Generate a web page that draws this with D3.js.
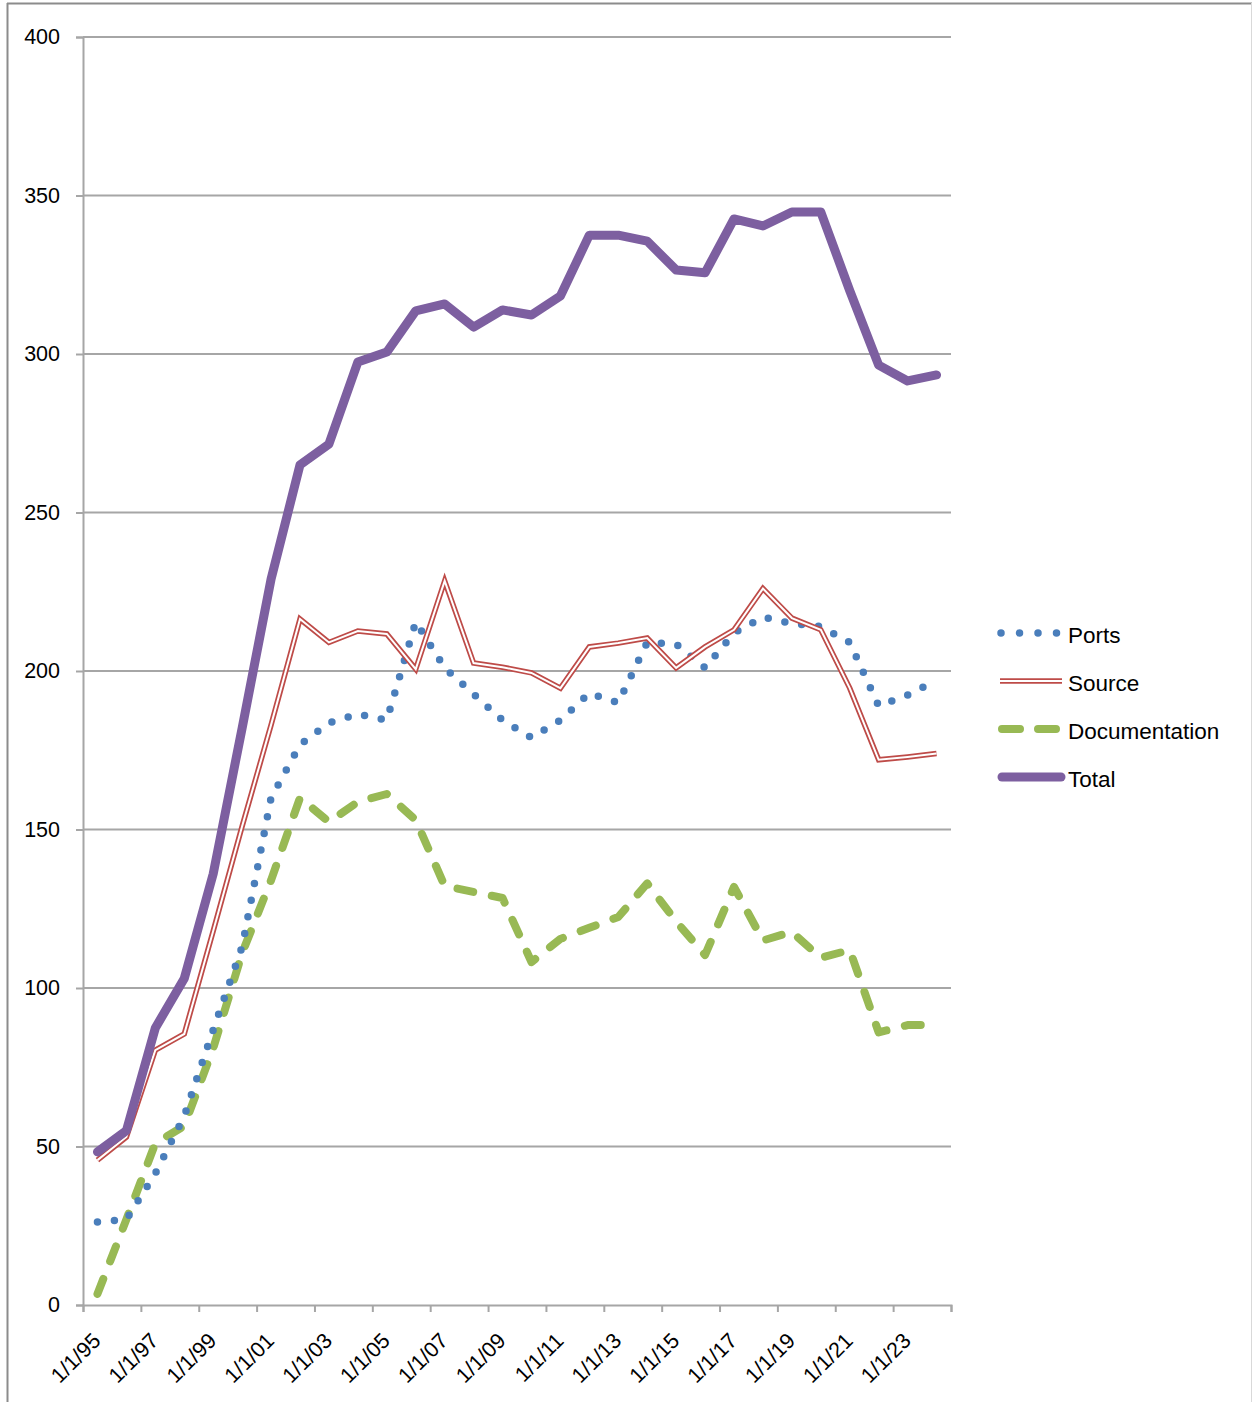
<!DOCTYPE html>
<html>
<head>
<meta charset="utf-8">
<script src="https://cdn.jsdelivr.net/npm/d3@7"></script>
<style>
  html, body { margin: 0; padding: 0; background: #fff; }
  svg { display: block; }
  text { font-family: "Liberation Sans", Arial, sans-serif; fill: #000; }
</style>
</head>
<body>
<svg id="chart" width="1252" height="1402"></svg>
<script>
// ---- data ----
const categories = ["1/1/95","1/1/96","1/1/97","1/1/98","1/1/99","1/1/00","1/1/01","1/1/02","1/1/03","1/1/04",
  "1/1/05","1/1/06","1/1/07","1/1/08","1/1/09","1/1/10","1/1/11","1/1/12","1/1/13","1/1/14",
  "1/1/15","1/1/16","1/1/17","1/1/18","1/1/19","1/1/20","1/1/21","1/1/22","1/1/23","1/1/24"];
const ports = [26.2, 27, 41.5, 59.6, 86.8, 113, 160, 176.7, 183.6, 186.4, 184.5, 215.5, 201, 192.7, 184.5,
  179, 184.5, 193, 190, 209, 208.5, 201, 212, 217, 215, 214, 209, 189, 192.4, 197];
const source = [45.7, 53, 80.4, 85.5, 118, 151, 183, 216.4, 209, 212.6, 211.7, 200.6, 228.4, 202.5, 201.2,
  199.4, 194.6, 207.6, 208.8, 210.4, 201, 207.6, 213, 226, 216.7, 213, 194.6, 172, 172.9, 174];
const documentation = [3.5, 27, 51, 56.5, 81, 111, 134, 160, 152.4, 158.7, 161.2, 153, 132.2, 130.3, 128.4,
  108.2, 115.5, 119, 122.4, 133, 121, 110.4, 131.9, 115, 117.7, 109.5, 112, 86, 88.3, 88.3];
const total = [48.3, 55, 87.4, 103, 136, 182, 229, 265, 271.6, 297.5, 300.6, 313.6, 315.8, 308.5, 313.9,
  312.3, 318.3, 337.5, 337.5, 335.6, 326.5, 325.6, 342.6, 340.4, 344.8, 344.8, 320, 296.5, 291.5, 293.4];
const yTicks = [0, 50, 100, 150, 200, 250, 300, 350, 400];
const seriesNames = ["Ports", "Source", "Documentation", "Total"];

(function draw() {
  const svg = d3.select("#chart");
  const pLeft = 83, pRight = 951, pTop = 37, pBottom = 1305;
  const gridColor = "#a6a6a6";

  // outer frame
  svg.append("line").attr("x1", 7).attr("x2", 1252).attr("y1", 3.5).attr("y2", 3.5)
    .attr("stroke", "#8c8c8c").attr("stroke-width", 2);
  svg.append("line").attr("x1", 7.5).attr("x2", 7.5).attr("y1", 3).attr("y2", 1402)
    .attr("stroke", "#8c8c8c").attr("stroke-width", 2);
  svg.append("line").attr("x1", 1251.5).attr("x2", 1251.5).attr("y1", 3).attr("y2", 1402)
    .attr("stroke", "#d9d9d9").attr("stroke-width", 1);

  const n = categories.length;
  const xi = d3.scaleLinear().domain([0, n]).range([pLeft, pRight]);
  const xc = i => xi(i + 0.5);
  const y = d3.scaleLinear().domain([0, 400]).range([pBottom, pTop]);

  // gridlines
  svg.append("g").selectAll("line").data(yTicks.filter(d => d > 0)).join("line")
    .attr("x1", pLeft).attr("x2", pRight)
    .attr("y1", d => y(d)).attr("y2", d => y(d))
    .attr("stroke", gridColor).attr("stroke-width", 2);

  // y axis
  const yAxis = svg.append("g").attr("transform", `translate(${pLeft},0)`)
    .call(d3.axisLeft(y).tickValues(yTicks).tickSize(7).tickPadding(16));
  yAxis.select(".domain").attr("stroke", gridColor).attr("stroke-width", 2);
  yAxis.selectAll(".tick line").attr("stroke", gridColor).attr("stroke-width", 2);
  yAxis.selectAll(".tick text").attr("font-size", 21.5)
    .attr("font-family", "Liberation Sans, Arial, sans-serif").attr("fill", "#000");

  // x axis ticks
  const xTickIdx = d3.range(0, n + 1, 2);
  const xAxis = svg.append("g").attr("transform", `translate(0,${pBottom})`)
    .call(d3.axisBottom(xi).tickValues(xTickIdx).tickSize(7).tickFormat(""));
  xAxis.select(".domain").attr("stroke", gridColor).attr("stroke-width", 2);
  xAxis.selectAll(".tick line").attr("stroke", gridColor).attr("stroke-width", 2);

  // x labels (every other category)
  svg.append("g").selectAll("text")
    .data(categories.map((c, i) => ({ c, i })).filter(d => d.i % 2 === 0))
    .join("text")
    .attr("transform", d => `translate(${xc(d.i) + 4.5},${pBottom + 37}) rotate(-45)`)
    .attr("text-anchor", "end")
    .attr("font-size", 21.5)
    .text(d => d.c);

  // lines
  const lineGen = d3.line().x((d, i) => xc(i)).y(d => y(d));
  const g = svg.append("g");

  g.append("path").datum(documentation).attr("d", lineGen)
    .attr("fill", "none").attr("stroke", "#98b954").attr("stroke-width", 8)
    .attr("stroke-linecap", "round").attr("stroke-linejoin", "round")
    .attr("stroke-dasharray", "16 19");

  g.append("path").datum(ports).attr("d", lineGen)
    .attr("fill", "none").attr("stroke", "#4a7ebb").attr("stroke-width", 7.5)
    .attr("stroke-linecap", "round").attr("stroke-linejoin", "round")
    .attr("stroke-dasharray", "0 17");

  g.append("path").datum(source).attr("d", lineGen)
    .attr("fill", "none").attr("stroke", "#be4b48").attr("stroke-width", 5.5)
    .attr("stroke-linejoin", "miter");
  g.append("path").datum(source).attr("d", lineGen)
    .attr("fill", "none").attr("stroke", "#ffffff").attr("stroke-width", 2)
    .attr("stroke-linejoin", "miter");

  g.append("path").datum(total).attr("d", lineGen)
    .attr("fill", "none").attr("stroke", "#7d5fa0").attr("stroke-width", 9)
    .attr("stroke-linecap", "round").attr("stroke-linejoin", "round");

  // legend
  const lg = svg.append("g");
  const legY = [633, 681, 729, 777];
  lg.append("line").attr("x1", 1001).attr("x2", 1057).attr("y1", legY[0]).attr("y2", legY[0])
    .attr("stroke", "#4a7ebb").attr("stroke-width", 7.5).attr("stroke-linecap", "round")
    .attr("stroke-dasharray", "0 18.5");
  lg.append("line").attr("x1", 1000).attr("x2", 1062).attr("y1", legY[1]).attr("y2", legY[1])
    .attr("stroke", "#be4b48").attr("stroke-width", 5.5);
  lg.append("line").attr("x1", 1000).attr("x2", 1062).attr("y1", legY[1]).attr("y2", legY[1])
    .attr("stroke", "#fff").attr("stroke-width", 2);
  lg.append("line").attr("x1", 1002).attr("x2", 1058).attr("y1", legY[2]).attr("y2", legY[2])
    .attr("stroke", "#98b954").attr("stroke-width", 8).attr("stroke-linecap", "round")
    .attr("stroke-dasharray", "18 18");
  lg.append("line").attr("x1", 1002).attr("x2", 1061).attr("y1", legY[3]).attr("y2", legY[3])
    .attr("stroke", "#7d5fa0").attr("stroke-width", 9).attr("stroke-linecap", "round");

  lg.selectAll("text").data(seriesNames).join("text")
    .attr("x", 1068).attr("y", (d, i) => legY[i] + 2)
    .attr("dy", "0.35em").attr("font-size", 22.5)
    .text(d => d);
})();
</script>
</body>
</html>
